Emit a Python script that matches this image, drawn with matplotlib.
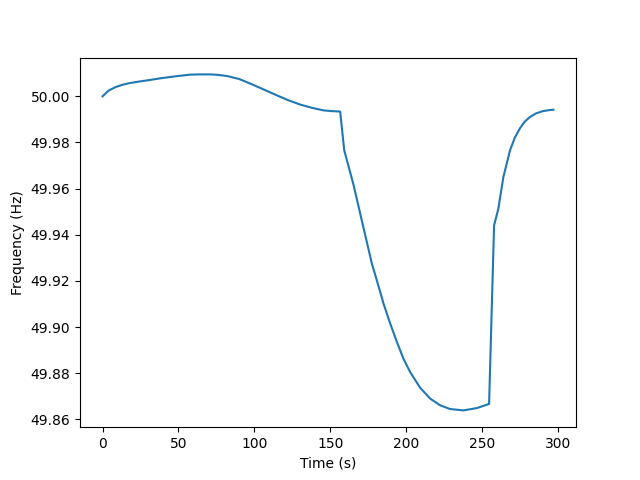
import matplotlib
matplotlib.use("Agg")
import matplotlib.pyplot as plt

time_s = [0, 4, 8.6, 13, 18.4, 24, 29.4, 37, 44.7, 51, 57.9, 64, 71.1, 76, 82.0, 90, 97.4, 106, 114.9, 122, 130.3, 138, 145.6, 151, 156.5,
          159.2, 165.3, 170.9, 177.4, 180.7, 185.1, 189.5, 193.9, 198.2, 202.6, 209.2, 215.8, 222.4, 228.9, 237.7, 246.5, 254.6,
          257.9, 260.7, 264.0, 268.4, 271.5, 275, 278, 281.6, 285.5, 290.1, 294, 297]
freq_hz = [50.0000, 50.0025, 50.0040, 50.0050, 50.0058, 50.0064, 50.0069, 50.0077, 50.0084, 50.0089, 50.0094, 50.0095, 50.0095, 50.0093, 50.0088, 50.0075, 50.0055, 50.0030, 50.0004, 49.9984, 49.9964, 49.9950, 49.9939, 49.9936, 49.9934,
           49.9766, 49.9617, 49.9458, 49.9275, 49.9202, 49.9101, 49.9015, 49.8935, 49.8863, 49.8805, 49.8737, 49.8690, 49.8661, 49.8645, 49.8639, 49.8649, 49.8667,
           49.9441, 49.9513, 49.9650, 49.9766, 49.9820, 49.9862, 49.9890, 49.9911, 49.9926, 49.9936, 49.9940, 49.9942]

fig, ax = plt.subplots(figsize=(6.4, 4.8), dpi=100)
ax.plot(time_s, freq_hz)
ax.set_xlabel("Time (s)")
ax.set_ylabel("Frequency (Hz)")
fig.savefig("out.png")
